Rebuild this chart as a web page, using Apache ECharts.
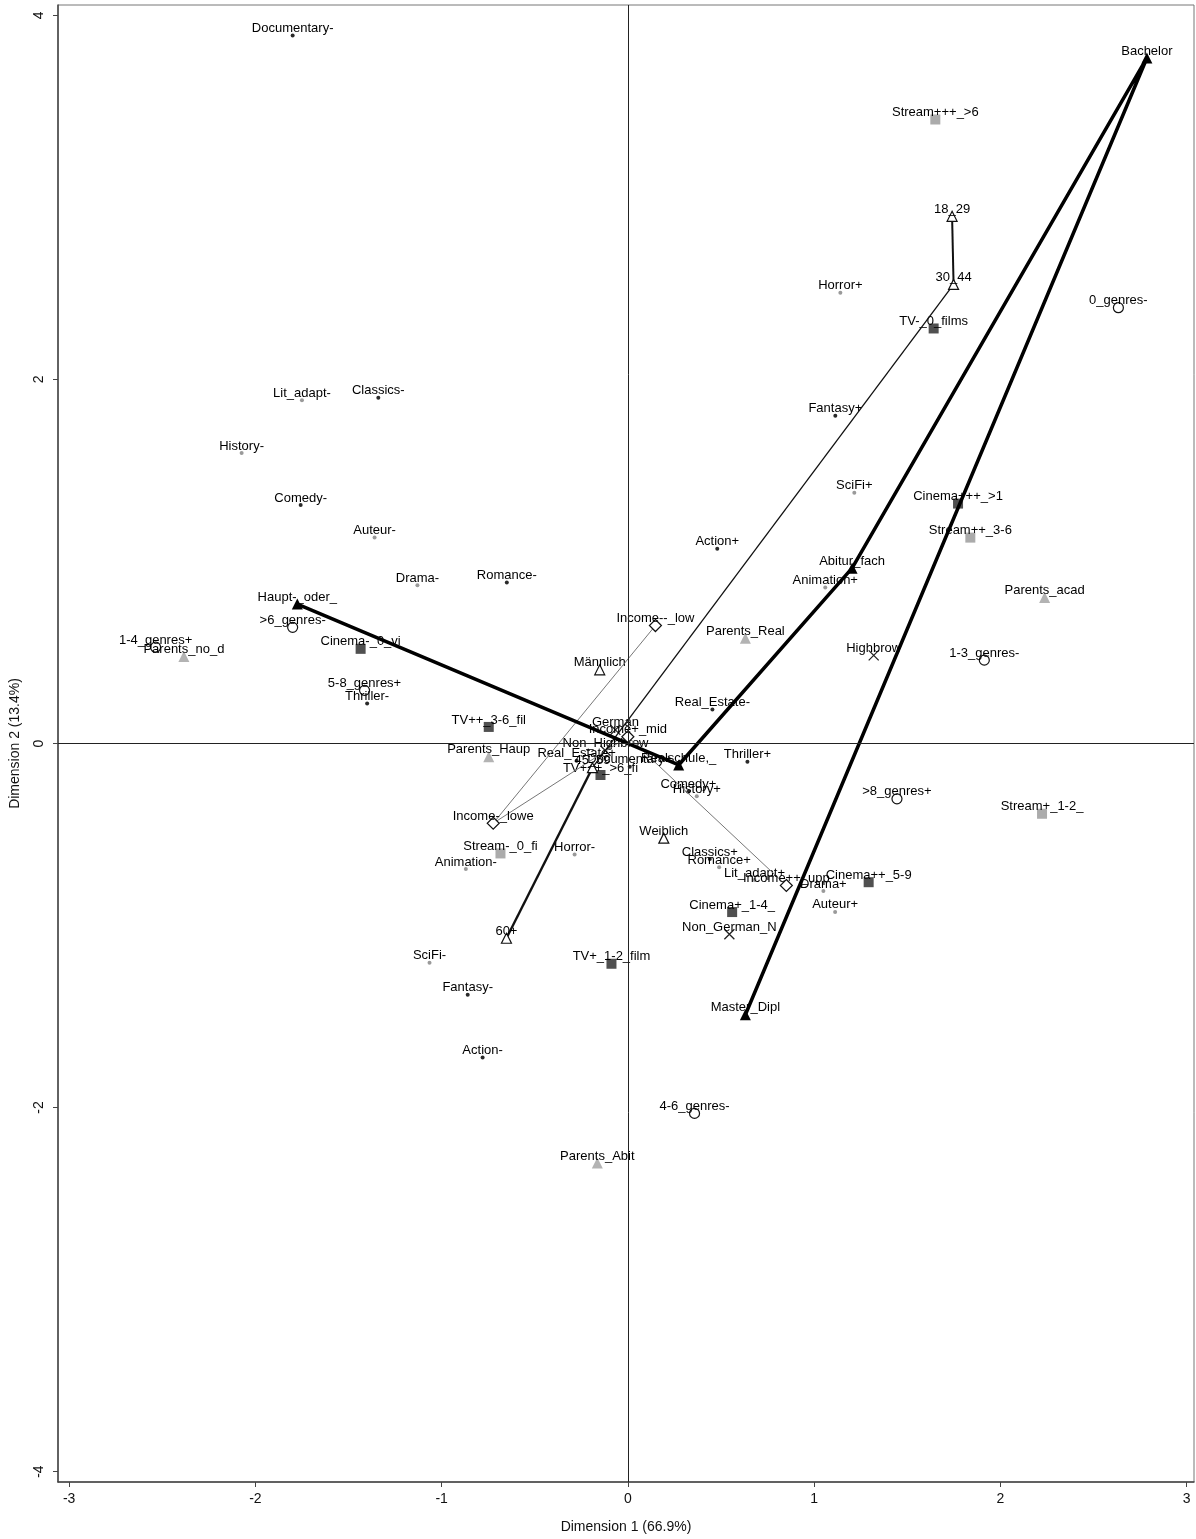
<!DOCTYPE html>
<html>
<head>
<meta charset="utf-8">
<script src="https://cdn.jsdelivr.net/npm/echarts@6/dist/echarts.min.js"></script>
<style>
  html, body { margin: 0; padding: 0; background: #fff; }
  #chart { width: 1196px; height: 1539px; }
</style>
</head>
<body>
<div id="chart"></div>
<script>
// Tick values on both dimensions
const xTicks = [-3, -2, -1, 0, 1, 2, 3];
const yTicks = [-4, -2, 0, 2, 4];

// Category coordinates: [label, dimension 1, dimension 2]
const genresDark = [
  ['Documentary-', -1.80, 3.89],
  ['Classics-', -1.34, 1.90],
  ['Comedy-', -1.757, 1.31],
  ['Romance-', -0.65, 0.885],
  ['Thriller-', -1.40, 0.22],
  ['Action+', 0.48, 1.07],
  ['Fantasy+', 1.114, 1.80],
  ['Real_Estate-', 0.454, 0.187],
  ['Thriller+', 0.642, -0.10],
  ['Comedy+', 0.325, -0.265],
  ['Documentary+', 0.01, -0.128],
  ['Real_Estate+', -0.275, -0.095],
  ['Classics+', 0.44, -0.635],
  ['Fantasy-', -0.86, -1.38],
  ['Action-', -0.78, -1.725]
];
const genresLight = [
  ['Lit_adapt-', -1.75, 1.886],
  ['History-', -2.074, 1.596],
  ['Auteur-', -1.36, 1.131],
  ['Drama-', -1.13, 0.87],
  ['SciFi+', 1.216, 1.377],
  ['Horror+', 1.141, 2.476],
  ['Animation+', 1.06, 0.857],
  ['History+', 0.37, -0.29],
  ['Romance+', 0.49, -0.68],
  ['Lit_adapt+', 0.68, -0.75],
  ['Drama+', 1.05, -0.81],
  ['Auteur+', 1.113, -0.925],
  ['Horror-', -0.286, -0.61],
  ['Animation-', -0.87, -0.69],
  ['SciFi-', -1.065, -1.205]
];
const genreCounts = [
  ['0_genres-', 2.634, 2.394],
  ['1-3_genres-', 1.914, 0.458],
  ['>8_genres+', 1.445, -0.304],
  ['4-6_genres-', 0.358, -2.032],
  ['>6_genres-', -1.80, 0.638],
  ['5-8_genres+', -1.414, 0.292],
  ['1-4_genres+', -2.536, 0.529]
];
const cinemaTv = [
  ['Cinema-_0_vi', -1.435, 0.52],
  ['Cinema+_1-4_', 0.56, -0.926],
  ['Cinema++_5-9', 1.293, -0.762],
  ['Cinema+++_>1', 1.773, 1.318],
  ['TV-_0_films', 1.642, 2.28],
  ['TV++_3-6_fil', -0.747, 0.091],
  ['TV+_1-2_film', -0.088, -1.21],
  ['TV+++_>6_fi', -0.147, -0.173]
];
const streaming = [
  ['Stream+++_>6', 1.651, 3.428],
  ['Stream++_3-6', 1.839, 1.131],
  ['Stream+_1-2_', 2.224, -0.386],
  ['Stream-_0_fi', -0.684, -0.604]
];
const parents = [
  ['Parents_acad', 2.238, 0.802],
  ['Parents_Real', 0.631, 0.578],
  ['Parents_Haup', -0.747, -0.073],
  ['Parents_no_d', -2.384, 0.478],
  ['Parents_Abit', -0.164, -2.305]
];
const education = [
  ['Haupt-_oder_', -1.775, 0.766],
  ['Realschule,_', 0.273, -0.118],
  ['Abitur_fach', 1.204, 0.963],
  ['Bachelor', 2.787, 3.766],
  ['Master_Dipl', 0.631, -1.49]
];
const age = [
  ['18_29', 1.741, 2.896],
  ['30_44', 1.749, 2.522],
  ['45_59', -0.19, -0.133],
  ['60+', -0.652, -1.07]
];
const gender = [
  ['Männlich', -0.151, 0.405],
  ['Weiblich', 0.193, -0.52]
];
const income = [
  ['Income--_low', 0.148, 0.648],
  ['Income-_lowe', -0.723, -0.438],
  ['Income+_mid', 0.0, 0.037],
  ['Income++_upp', 0.851, -0.78]
];
const highbrowNation = [
  ['Highbrow', 1.32, 0.484],
  ['Non_Highbrow', -0.12, -0.04],
  ['German', -0.067, 0.075],
  ['Non_German_N', 0.545, -1.048]
];

// Line widths for the successive age segments
const ageSegmentWidths = [2, 1.3, 2.4];

const FONT = 'Liberation Sans, Arial, Helvetica, sans-serif';
const toData = list => list.map(([n, x, y]) => ({ name: n, value: [x, y] }));

const pointLabel = {
  show: true,
  position: 'inside',
  offset: [0, -7],
  formatter: '{b}',
  fontFamily: FONT,
  fontSize: 13,
  color: '#000',
  textBorderWidth: 0,
  textBorderColor: 'transparent',
  textShadowBlur: 0
};

function scatter(name, list, symbol, size, itemStyle, extra) {
  return Object.assign({
    name: name,
    type: 'scatter',
    data: toData(list),
    symbol: symbol,
    symbolSize: size,
    itemStyle: Object.assign({ opacity: 1 }, itemStyle),
    label: pointLabel,
    emphasis: { disabled: true },
    z: 2
  }, extra || {});
}

const diamond = 'path://M0,-1L1,0L0,1L-1,0Z';
const cross = 'path://M0,0L10,10M10,0L0,10';

const series = [
  scatter('genresLight', genresLight, 'circle', 4, { color: '#9a9a9a' }, {
    markLine: {
      silent: true,
      symbol: 'none',
      label: { show: false },
      lineStyle: { color: '#222', width: 1, type: 'solid' },
      data: [{ xAxis: 0 }, { yAxis: 0 }]
    }
  }),
  scatter('genresDark', genresDark, 'circle', 4, { color: '#2a2a2a' }),
  scatter('genreCounts', genreCounts, 'circle', 10, { color: '#fff', borderColor: '#111', borderWidth: 1.2 }),
  scatter('cinemaTv', cinemaTv, 'rect', 10, { color: '#505050' }),
  scatter('streaming', streaming, 'rect', 10, { color: '#ababab' }),
  scatter('parents', parents, 'triangle', 11, { color: '#b3b3b3' }),
  scatter('gender', gender, 'triangle', 10, { color: '#fff', borderColor: '#111', borderWidth: 1.2 }),
  scatter('highbrowNation', highbrowNation, cross, 10, { color: 'transparent', borderColor: '#222', borderWidth: 1.3 }),
  {
    name: 'income',
    type: 'line',
    data: toData(income),
    symbol: diamond,
    symbolSize: 12,
    showAllSymbol: true,
    itemStyle: { color: '#fff', borderColor: '#111', borderWidth: 1.2 },
    lineStyle: { color: '#777', width: 1 },
    label: pointLabel,
    emphasis: { disabled: true },
    z: 3
  }
];

// Age categories: connected in order, segment by segment
for (let i = 0; i < age.length - 1; i++) {
  series.push({
    name: 'age' + i,
    type: 'line',
    data: toData(age.slice(i, i + 2)),
    symbol: 'none',
    lineStyle: { color: '#111', width: ageSegmentWidths[i] },
    emphasis: { disabled: true },
    z: 3
  });
}
series.push(scatter('ageMarkers', age, 'triangle', 10, { color: '#fff', borderColor: '#111', borderWidth: 1.2 }, { z: 4 }));

series.push({
  name: 'education',
  type: 'line',
  data: toData(education),
  symbol: 'triangle',
  symbolSize: 11,
  showAllSymbol: true,
  itemStyle: { color: '#000' },
  lineStyle: { color: '#000', width: 3.5 },
  label: pointLabel,
  emphasis: { disabled: true },
  z: 4
});

const chart = echarts.init(document.getElementById('chart'), null, { renderer: 'canvas' });
chart.setOption({
  animation: false,
  backgroundColor: '#fff',
  textStyle: { fontFamily: FONT },
  grid: {
    left: 57, top: 5, right: 2, bottom: 51,
    show: true, borderColor: '#777', borderWidth: 1
  },
  xAxis: {
    type: 'value',
    min: -3.06, max: 3.04,
    name: 'Dimension 1 (66.9%)',
    nameLocation: 'middle',
    nameGap: 38,
    nameTextStyle: { fontFamily: FONT, fontSize: 14, color: '#111' },
    axisLine: { show: true, onZero: false, lineStyle: { color: '#444', width: 1.5 } },
    axisTick: { show: true, customValues: xTicks, length: 5, lineStyle: { color: '#444' } },
    axisLabel: { customValues: xTicks, fontFamily: FONT, fontSize: 14, color: '#111', margin: 10 },
    splitLine: { show: false }
  },
  yAxis: {
    type: 'value',
    min: -4.057, max: 4.057,
    name: 'Dimension 2 (13.4%)',
    nameLocation: 'middle',
    nameGap: 36,
    nameRotate: 90,
    nameTextStyle: { fontFamily: FONT, fontSize: 14, color: '#111' },
    axisLine: { show: true, onZero: false, lineStyle: { color: '#444', width: 1.5 } },
    axisTick: { show: true, customValues: yTicks, length: 5, lineStyle: { color: '#444' } },
    axisLabel: { customValues: yTicks, rotate: 90, fontFamily: FONT, fontSize: 14, color: '#111', margin: 12 },
    splitLine: { show: false }
  },
  series: series
});
</script>
</body>
</html>
